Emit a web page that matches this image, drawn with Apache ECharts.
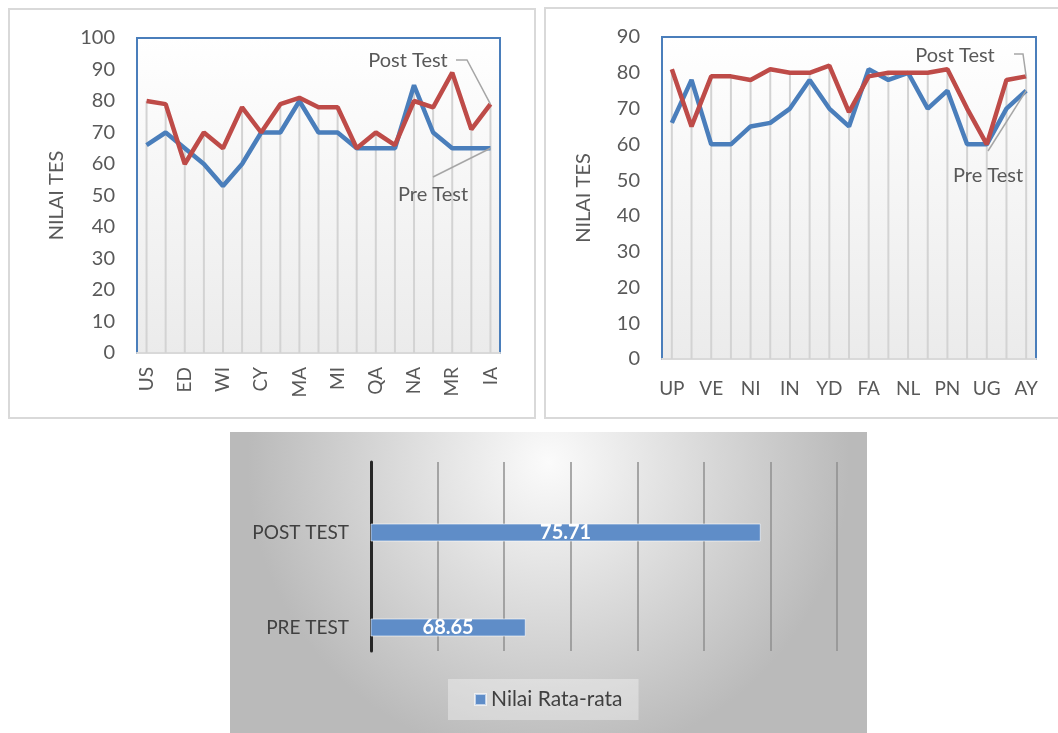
<!DOCTYPE html>
<html>
<head>
<meta charset="utf-8">
<script src="https://cdn.jsdelivr.net/npm/echarts@6/dist/echarts.min.js"></script>
<style>
  html, body { margin: 0; padding: 0; background: #fff; }
  #main { width: 1058px; height: 733px; }
</style>
</head>
<body>
<div id="main"></div>
<script>
// grafik kiri - kelas 1
var leftCats = ['US','AN','ED','RF','WI','SA','CY','DN','MA','RZ','MI','FH','QA','LS','NA','AK','MR','TH','IA'];
var leftPre  = [66, 70, 65, 60, 53, 60, 70, 70, 80, 70, 70, 65, 65, 65, 85, 70, 65, 65, 65];
var leftPost = [80, 79, 60, 70, 65, 78, 70, 79, 81, 78, 78, 65, 70, 66, 80, 78, 89, 71, 79];

// grafik kanan - kelas 2
var rightCats = ['UP','RA','VE','DS','NI','AF','IN','RK','YD','HS','FA','MZ','NL','SR','PN','AL','UG','FR','AY'];
var rightPre  = [66, 78, 60, 60, 65, 66, 70, 78, 70, 65, 81, 78, 80, 70, 75, 60, 60, 70, 75];
var rightPost = [81, 65, 79, 79, 78, 81, 80, 80, 82, 69, 79, 80, 80, 80, 81, 70, 60, 78, 79];

// grafik bawah - rata-rata
var barCats = ['PRE TEST', 'POST TEST'];
var barValues = [68.65, 75.71];

var FONT = 'Lato';
var TXT = '#595959';
var BLUE = '#4a7ebb';
var RED = '#be4b48';

//garis jatuh (drop line) = nilai tertinggi tiap siswa
function dropData(a, b) {
  var r = [];
  for (var i = 0; i < a.length; i++) {
    r.push(Math.max(a[i], b[i]));
  }
  return r;
}

function plotBg() {
  return new echarts.graphic.LinearGradient(0, 0, 0, 1, [
    { offset: 0, color: '#ffffff' },
    { offset: 1, color: '#ebebeb' }
  ]);
}

function catAxis(cats, labelRotate, labelMargin) {
  return {
    type: 'category',
    data: cats,
    boundaryGap: true,
    axisLine: { show: true, lineStyle: { color: '#d9d9d9', width: 2 } },
    axisTick: { show: false },
    splitLine: { show: false },
    axisLabel: {
      interval: 1, rotate: labelRotate, margin: labelMargin,
      color: TXT, fontFamily: FONT, fontSize: 19
    }
  };
}

function valueAxis(max, gap) {
  return {
    type: 'value',
    min: 0, max: max, interval: 10,
    name: 'NILAI TES',
    nameLocation: 'middle',
    nameGap: gap,
    nameRotate: 90,
    nameTextStyle: { color: TXT, fontFamily: FONT, fontSize: 20 },
    axisLine: { show: false },
    axisTick: { show: false },
    splitLine: { show: false },
    axisLabel: { color: TXT, fontFamily: FONT, fontSize: 20, margin: 22 }
  };
}

var myChart = echarts.init(document.getElementById('main'));

var option = {
  animation: false,
  legend: {
    data: ['Nilai Rata-rata'],
    left: 448, top: 679,
    padding: [10, 16, 10, 26],
    backgroundColor: 'rgba(255,255,255,0.35)',
    itemWidth: 11, itemHeight: 11, itemGap: 6,
    icon: 'rect',
    textStyle: { color: '#404040', fontFamily: FONT, fontSize: 21 }
  },
  grid: [
    { left: 137, top: 38, width: 363, height: 315, show: true, backgroundColor: plotBg(), borderColor: BLUE, borderWidth: 2 },
    { left: 662, top: 37, width: 374, height: 322, show: true, backgroundColor: plotBg(), borderColor: BLUE, borderWidth: 2 },
    { left: 371, top: 462, width: 466, height: 189 },
    { left: 371, top: 485, width: 466, height: 190 }
  ],
  xAxis: [
    Object.assign(catAxis(leftCats, 90, 14), { gridIndex: 0 }),
    Object.assign(catAxis(rightCats, 0, 20), { gridIndex: 1 }),
    {
      gridIndex: 2, type: 'value', min: 64, max: 78, interval: 2,
      axisLine: { show: false }, axisTick: { show: false }, axisLabel: { show: false },
      splitLine: { show: true, lineStyle: { color: '#8f8f8f', width: 1.5 } }
    },
    { gridIndex: 3, type: 'value', min: 64, max: 78, interval: 2, show: false }
  ],
  yAxis: [
    Object.assign(valueAxis(100, 70), { gridIndex: 0 }),
    Object.assign(valueAxis(90, 68), { gridIndex: 1 }),
    {
      gridIndex: 2, type: 'category', data: barCats,
      axisLine: { show: true, lineStyle: { color: '#262626', width: 3 } },
      axisTick: { show: false }, axisLabel: { show: false }, splitLine: { show: false }
    },
    {
      gridIndex: 3, type: 'category', data: barCats,
      axisLine: { show: false }, axisTick: { show: false },
      axisLabel: { color: '#404040', fontFamily: FONT, fontSize: 19, margin: 22 }
    }
  ],
  series: [
    {
      name: 'drop1', type: 'bar', xAxisIndex: 0, yAxisIndex: 0,
      data: dropData(leftPre, leftPost), barWidth: 2, z: 1,
      itemStyle: { color: '#d3d3d3' }
    },
    {
      name: 'Pre Test', type: 'line', xAxisIndex: 0, yAxisIndex: 0,
      data: leftPre, symbol: 'none', lineStyle: { color: BLUE, width: 4.5 }
    },
    {
      name: 'Post Test', type: 'line', xAxisIndex: 0, yAxisIndex: 0,
      data: leftPost, symbol: 'none', lineStyle: { color: RED, width: 4.5 }
    },
    {
      name: 'drop2', type: 'bar', xAxisIndex: 1, yAxisIndex: 1,
      data: dropData(rightPre, rightPost), barWidth: 2, z: 1,
      itemStyle: { color: '#d3d3d3' }
    },
    {
      name: 'Pre Test', type: 'line', xAxisIndex: 1, yAxisIndex: 1,
      data: rightPre, symbol: 'none', lineStyle: { color: BLUE, width: 4.5 }
    },
    {
      name: 'Post Test', type: 'line', xAxisIndex: 1, yAxisIndex: 1,
      data: rightPost, symbol: 'none', lineStyle: { color: RED, width: 4.5 }
    },
    {
      name: 'Nilai Rata-rata', type: 'bar', xAxisIndex: 3, yAxisIndex: 3,
      data: barValues, barWidth: 18,
      itemStyle: { color: '#5f8dc8', borderColor: 'rgba(255,255,255,0.6)', borderWidth: 1 },
      label: {
        show: true, position: 'inside', color: '#fff',
        fontFamily: FONT, fontSize: 20, fontWeight: 'bold',
        formatter: function (p) { return p.value.toFixed(2); }
      }
    }
  ]
};
myChart.setOption(option);

//label garis (Post Test / Pre Test) + bingkai
function pt(seriesIndex, idx, val) {
  return myChart.convertToPixel({ seriesIndex: seriesIndex }, [idx, val]);
}
var n = leftCats.length - 1;
var lPost = pt(2, n, leftPost[n]);
var lPre = pt(1, n, leftPre[n]);
var rPost = pt(5, n, rightPost[n]);
var rPre = pt(4, n, rightPre[n]);

var leaderStyle = { stroke: '#a6a6a6', lineWidth: 1.5, fill: null };
function label(text, x, y) {
  return {
    type: 'text', x: x, y: y, z: 50,
    style: { text: text, fill: TXT, font: '20px ' + FONT, textAlign: 'center', textVerticalAlign: 'middle' }
  };
}

myChart.setOption({
  graphic: [
    {
      type: 'rect', z: -10, silent: true,
      shape: { x: 230, y: 432, width: 637, height: 301 },
      style: {
        fill: new echarts.graphic.RadialGradient(0.5, 0.1, 1.0, [
          { offset: 0, color: '#fbfbfb' },
          { offset: 1, color: '#bababa' }
        ])
      }
    },
    { type: 'rect', z: -10, shape: { x: 9, y: 9, width: 526, height: 409 }, style: { fill: null, stroke: '#d9d9d9', lineWidth: 2 } },
    { type: 'rect', z: -10, shape: { x: 545, y: 8, width: 520, height: 410 }, style: { fill: null, stroke: '#d9d9d9', lineWidth: 2 } },

    label('Post Test', 408, 61),
    { type: 'polyline', z: 50, shape: { points: [[456, 60], [467, 60], lPost] }, style: leaderStyle },
    label('Pre Test', 433, 195),
    { type: 'polyline', z: 50, shape: { points: [[433, 177], lPre] }, style: leaderStyle },

    label('Post Test', 955, 56),
    { type: 'polyline', z: 50, shape: { points: [[1014, 54], [1023, 54], rPost] }, style: leaderStyle },
    label('Pre Test', 988, 176),
    { type: 'polyline', z: 50, shape: { points: [[988, 151], rPre] }, style: leaderStyle }
  ]
});
window.onresize = myChart.resize;
</script>
</body>
</html>
